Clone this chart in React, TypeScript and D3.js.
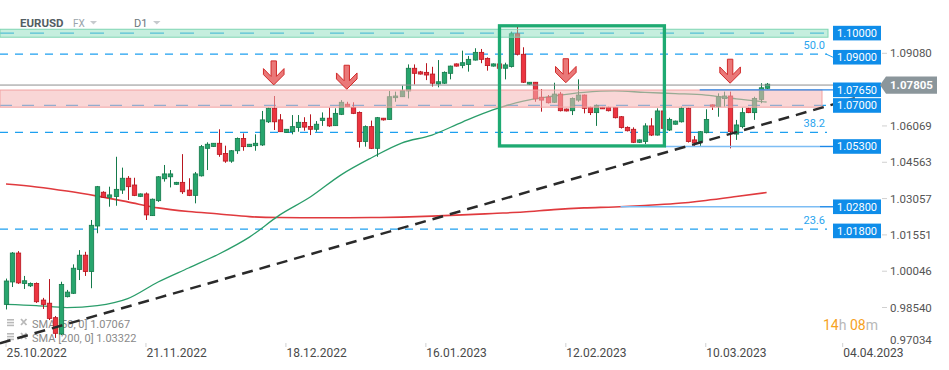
import { useEffect, useRef } from "react";
import * as d3 from "d3";

// daily candles, 25.10.2022 .. 22.03.2023 (Sunday bars included)
const opens = [
  0.9867, 0.9960, 1.0080, 0.9954, 0.9944, 0.9954, 0.9885, 0.9872, 0.9812, 0.9744,
  0.9899, 0.9913, 1.0012, 1.0071, 1.0003, 1.0192, 1.0332, 1.0311, 1.0314, 1.0341,
  1.0390, 1.0362, 1.0315, 1.0325, 1.0235, 1.0297, 1.0388, 1.0396, 1.0365, 1.0373,
  1.0341, 1.0319, 1.0400, 1.0514, 1.0522, 1.0535, 1.0493, 1.0461, 1.0504, 1.0555,
  1.0521, 1.0525, 1.0528, 1.0624, 1.0680, 1.0632, 1.0580, 1.0583, 1.0600, 1.0621,
  1.0605, 1.0593, 1.0629, 1.0639, 1.0608, 1.0655, 1.0697, 1.0683, 1.0663, 1.0542,
  1.0604, 1.0514, 1.0639, 1.0634, 1.0724, 1.0728, 1.0752, 1.0846, 1.0831, 1.0829,
  1.0822, 1.0781, 1.0784, 1.0825, 1.0864, 1.0858, 1.0862, 1.0880, 1.0912, 1.0887,
  1.0855, 1.0864, 1.0846, 1.0853, 1.0989, 1.0904, 1.0780, 1.0788, 1.0726, 1.0726,
  1.0705, 1.0739, 1.0677, 1.0670, 1.0714, 1.0735, 1.0684, 1.0662, 1.0684, 1.0684,
  1.0683, 1.0645, 1.0601, 1.0593, 1.0539, 1.0542, 1.0607, 1.0569, 1.0669, 1.0590,
  1.0614, 1.0624, 1.0680, 1.0549, 1.0542, 1.0579, 1.0694, 1.0687, 1.0720, 1.0731,
  1.0573, 1.0604, 1.0680, 1.0662, 1.0717, 1.0763,
];
const highs = [
  0.9974, 1.0084, 1.0088, 0.9985, 0.9958, 0.9958, 0.9894, 0.9972, 0.9819, 0.9961,
  0.9927, 1.0033, 1.0092, 1.0085, 1.0217, 1.0358, 1.0336, 1.0355, 1.0479, 1.0434,
  1.0399, 1.0392, 1.0327, 1.0331, 1.0306, 1.0399, 1.0445, 1.0424, 1.0375, 1.0490,
  1.0390, 1.0416, 1.0528, 1.0539, 1.0536, 1.0593, 1.0525, 1.0507, 1.0559, 1.0576,
  1.0532, 1.0572, 1.0669, 1.0683, 1.0731, 1.0656, 1.0594, 1.0652, 1.0652, 1.0643,
  1.0655, 1.0627, 1.0663, 1.0683, 1.0680, 1.0714, 1.0707, 1.0705, 1.0667, 1.0609,
  1.0629, 1.0644, 1.0640, 1.0752, 1.0749, 1.0774, 1.0862, 1.0862, 1.0835, 1.0867,
  1.0852, 1.0880, 1.0833, 1.0857, 1.0866, 1.0919, 1.0897, 1.0929, 1.0926, 1.0891,
  1.0866, 1.0866, 1.0869, 1.0998, 1.1021, 1.0933, 1.0789, 1.0789, 1.0760, 1.0735,
  1.0786, 1.0748, 1.0679, 1.0725, 1.0800, 1.0737, 1.0687, 1.0696, 1.0686, 1.0687,
  1.0685, 1.0648, 1.0605, 1.0601, 1.0551, 1.0618, 1.0639, 1.0680, 1.0671, 1.0641,
  1.0629, 1.0687, 1.0683, 1.0565, 1.0586, 1.0676, 1.0696, 1.0742, 1.0749, 1.0749,
  1.0632, 1.0683, 1.0683, 1.0728, 1.0784, 1.0785,
];
const lows = [
  0.9846, 0.9939, 0.9952, 0.9931, 0.9939, 0.9873, 0.9848, 0.9802, 0.9728, 0.9740,
  0.9896, 0.9910, 0.9968, 0.9985, 0.9934, 1.0162, 1.0308, 1.0272, 1.0276, 1.0325,
  1.0300, 1.0316, 1.0312, 1.0217, 1.0234, 1.0292, 1.0376, 1.0352, 1.0362, 1.0325,
  1.0316, 1.0286, 1.0397, 1.0424, 1.0520, 1.0479, 1.0454, 1.0454, 1.0491, 1.0504,
  1.0520, 1.0504, 1.0524, 1.0619, 1.0590, 1.0582, 1.0578, 1.0572, 1.0583, 1.0587,
  1.0569, 1.0583, 1.0607, 1.0603, 1.0607, 1.0652, 1.0685, 1.0656, 1.0517, 1.0521,
  1.0511, 1.0479, 1.0629, 1.0632, 1.0707, 1.0727, 1.0721, 1.0779, 1.0820, 1.0797,
  1.0770, 1.0767, 1.0781, 1.0800, 1.0853, 1.0846, 1.0832, 1.0878, 1.0867, 1.0836,
  1.0853, 1.0843, 1.0800, 1.0849, 1.0899, 1.0785, 1.0777, 1.0707, 1.0666, 1.0700,
  1.0702, 1.0667, 1.0667, 1.0652, 1.0707, 1.0659, 1.0652, 1.0607, 1.0678, 1.0667,
  1.0638, 1.0596, 1.0584, 1.0536, 1.0536, 1.0532, 1.0565, 1.0567, 1.0586, 1.0586,
  1.0612, 1.0621, 1.0538, 1.0524, 1.0524, 1.0576, 1.0673, 1.0645, 1.0687, 1.0514,
  1.0549, 1.0597, 1.0660, 1.0632, 1.0701, 1.0760,
];
const closes = [
  0.9964, 1.0080, 0.9956, 0.9965, 0.9954, 0.9878, 0.9867, 0.9809, 0.9747, 0.9950,
  0.9918, 1.0017, 1.0071, 1.0003, 1.0195, 1.0355, 1.0311, 1.0321, 1.0344, 1.0390,
  1.0355, 1.0319, 1.0325, 1.0238, 1.0303, 1.0396, 1.0408, 1.0408, 1.0373, 1.0334,
  1.0319, 1.0408, 1.0521, 1.0531, 1.0535, 1.0489, 1.0461, 1.0504, 1.0555, 1.0521,
  1.0531, 1.0535, 1.0632, 1.0680, 1.0624, 1.0583, 1.0593, 1.0604, 1.0622, 1.0602,
  1.0593, 1.0614, 1.0639, 1.0607, 1.0659, 1.0705, 1.0687, 1.0659, 1.0542, 1.0604,
  1.0514, 1.0641, 1.0632, 1.0728, 1.0731, 1.0753, 1.0846, 1.0825, 1.0822, 1.0818,
  1.0784, 1.0790, 1.0829, 1.0855, 1.0855, 1.0869, 1.0883, 1.0912, 1.0883, 1.0857,
  1.0864, 1.0846, 1.0860, 1.0989, 1.0904, 1.0788, 1.0788, 1.0719, 1.0714, 1.0703,
  1.0739, 1.0670, 1.0669, 1.0721, 1.0735, 1.0680, 1.0662, 1.0691, 1.0680, 1.0670,
  1.0641, 1.0600, 1.0587, 1.0539, 1.0549, 1.0607, 1.0569, 1.0669, 1.0597, 1.0634,
  1.0627, 1.0680, 1.0542, 1.0537, 1.0583, 1.0634, 1.0687, 1.0728, 1.0731, 1.0583,
  1.0611, 1.0662, 1.0662, 1.0721, 1.0765, 1.0780,
];

// moving averages, read every 5th bar
const smaBars = [0, 5, 10, 15, 20, 25, 30, 35, 40, 45, 50, 55, 60, 65, 70, 75, 80, 85, 90, 95, 100, 105, 110, 115, 120, 125];
const sma50 = [
  0.9867, 0.9862, 0.9854, 0.9862, 0.9891, 0.9960, 1.0018, 1.0076, 1.0146, 1.0238,
  1.0312, 1.0403, 1.0474, 1.0536, 1.0569, 1.0623, 1.0673, 1.0710, 1.0731, 1.0746,
  1.0752, 1.0746, 1.0741, 1.0735, 1.0719, 1.0706,
];
const sma200 = [
  1.0366, 1.0354, 1.0337, 1.0316, 1.0292, 1.0267, 1.0252, 1.0242, 1.0231, 1.0227,
  1.0226, 1.0226, 1.0227, 1.0229, 1.0233, 1.0238, 1.0244, 1.0250, 1.0260, 1.0267,
  1.0271, 1.0277, 1.0285, 1.0298, 1.0314, 1.0331,
];

const dateLabels = ["25.10.2022", "21.11.2022", "18.12.2022", "16.01.2023", "12.02.2023", "10.03.2023", "04.04.2023"];
const dateBars = [0, 23, 46, 69, 92, 115, 137.5];

// the 1.07574 tick sits under the last-price tag, so it is not listed
const priceTicks = [1.0908, 1.06069, 1.04563, 1.03057, 1.01551, 1.00046, 0.9854, 0.97034];
const priceTickLabels = ["1.09080", "1.06069", "1.04563", "1.03057", "1.01551", "1.00046", "0.98540", "0.97034"];

const levelValues = [1.1, 1.09, 1.0765, 1.07, 1.053, 1.028, 1.018];
const levelLabels = ["1.10000", "1.09000", "1.07650", "1.07000", "1.05300", "1.02800", "1.01800"];

const fibLabels = ["50.0", "38.2", "23.6"];
const fibValues = [1.0905, 1.058, 1.0179];

const solidLevels = [1.0765, 1.053, 1.028];
const solidStartBars = [114, 108.3, 101];

const greenZone = [1.1016, 1.0983];
const pinkZone = [1.0764, 1.0693];

const boxBars = [81.1, 108.2];
const boxPrices = [1.1022, 1.0524];

const trendBars = [-1, 139.5];
const trendPrices = [0.9706, 1.0722];

const arrowBars = [44, 56, 92, 119];
const arrowTips = [1.0777, 1.0759, 1.0786, 1.0784];

const lastPrice = 1.07805;
const legendRows = ["SMA [50, 0] 1.07067", "SMA [200, 0] 1.03322"];

export default function App() {
  const ref = useRef<SVGSVGElement | null>(null);

  useEffect(() => {
    const width = 949;
    const height = 370;
    const plotRight = 827;
    const shift = 2; // drawn levels sit a touch under the axis mapping
    const font = "Roboto, 'Open Sans', sans-serif";

    const svg = d3.select(ref.current);
    svg.selectAll("*").remove();
    svg.attr("width", width).attr("height", height).style("font-family", font);

    svg.append("rect").attr("width", width).attr("height", height).attr("fill", "#fff");

    const x = d3.scaleLinear().domain([0, 125]).range([6, 6 + 125 * 6.085]);
    const y = d3.scaleLinear().domain([1.1129, 0.9595]).range([0, height]);

    // header
    svg.append("text").attr("x", 20).attr("y", 27).text("EURUSD")
      .attr("font-size", 11.5).attr("font-weight", 700).attr("fill", "#535d63");
    svg.append("text").attr("x", 73).attr("y", 27).text("FX")
      .attr("font-size", 10).attr("fill", "#9aa4ab");
    svg.append("path").attr("d", "M90,21 L97,21 L93.5,24.5 Z").attr("fill", "#c6cacd");
    svg.append("text").attr("x", 134).attr("y", 27).text("D1")
      .attr("font-size", 11).attr("fill", "#6b757b");
    svg.append("path").attr("d", "M153,21 L160.5,21 L156.8,24.5 Z").attr("fill", "#c6cacd");

    // legend sits under the candles
    const legend = svg.append("g");
    legendRows.forEach((t, i) => {
      const base = 327.5 + i * 14;
      [0, 2.8, 5.6].forEach(dy => {
        legend.append("rect").attr("x", 7).attr("y", base - 8.5 + dy).attr("width", 7).attr("height", 1.6).attr("fill", "#b9b9b9");
      });
      legend.append("path")
        .attr("d", `M21,${base - 8.5} L26.5,${base - 2.5} M26.5,${base - 8.5} L21,${base - 2.5}`)
        .attr("stroke", "#b9b9b9").attr("stroke-width", 1.8);
      legend.append("text").attr("x", 32).attr("y", base).text(t)
        .attr("font-size", 11).attr("fill", "#8a8a8a");
    });

    // dashed horizontal levels
    const dashed = svg.append("g");
    dashed.append("line").attr("x1", 0).attr("x2", plotRight)
      .attr("y1", y(1.1) + shift).attr("y2", y(1.1) + shift)
      .attr("stroke", "#1ea2f0").attr("stroke-width", 1.2).attr("stroke-dasharray", "14,16");
    dashed.append("line").attr("x1", 0).attr("x2", 833)
      .attr("y1", y(1.07) + shift).attr("y2", y(1.07) + shift)
      .attr("stroke", "#1ea2f0").attr("stroke-width", 1.2).attr("stroke-dasharray", "12,10");
    fibValues.forEach((v, i) => {
      dashed.append("line").attr("x1", 0).attr("x2", plotRight)
        .attr("y1", y(v)).attr("y2", y(v))
        .attr("stroke", "#1ea0f0").attr("stroke-width", 1.2).attr("stroke-dasharray", "8,7");
      dashed.append("text").attr("x", 825).attr("y", y(v) - 5).text(fibLabels[i])
        .attr("text-anchor", "end").attr("font-size", 11).attr("fill", "#2aa4ee");
    });
    dashed.append("path")
      .attr("d", `M826,${y(fibValues[0])} L833,${y(1.09) + shift}`)
      .attr("stroke", "#1ea0f0").attr("fill", "none");

    // moving averages
    const smaLine = d3.line<number>()
      .x((d, i) => x(smaBars[i]))
      .y(d => y(d))
      .curve(d3.curveMonotoneX);
    svg.append("path").attr("d", smaLine(sma200)).attr("fill", "none")
      .attr("stroke", "#e03a3e").attr("stroke-width", 1.6);
    svg.append("path").attr("d", smaLine(sma50)).attr("fill", "none")
      .attr("stroke", "#2a9d6a").attr("stroke-width", 1.3);

    // candles
    const candles = svg.append("g");
    opens.forEach((o, i) => {
      const c = closes[i];
      const up = c >= o;
      const line = up ? "#157a4b" : "#b8161f";
      const fill = up ? "#27a56d" : "#ec3440";
      const cx = Math.round(x(i)) + 0.5;
      candles.append("line").attr("x1", cx).attr("x2", cx)
        .attr("y1", y(highs[i])).attr("y2", y(lows[i]))
        .attr("stroke", line).attr("stroke-width", 1);
      const top = y(Math.max(o, c));
      const h = Math.max(1.5, Math.abs(y(o) - y(c)));
      candles.append("rect").attr("x", cx - 2.2).attr("width", 4.4)
        .attr("y", top).attr("height", h)
        .attr("fill", fill).attr("stroke", line).attr("stroke-width", 0.8);
    });

    // zones over the candles
    svg.append("rect").attr("x", 0).attr("width", 822)
      .attr("y", y(pinkZone[0]) + shift).attr("height", y(pinkZone[1]) - y(pinkZone[0]))
      .attr("fill", "rgb(244,180,180)").attr("fill-opacity", 0.55)
      .attr("stroke", "#f2a2a2").attr("stroke-width", 1);
    svg.append("rect").attr("x", 0).attr("width", plotRight + 1)
      .attr("y", y(greenZone[0]) + shift).attr("height", y(greenZone[1]) - y(greenZone[0]))
      .attr("fill", "rgb(140,222,190)").attr("fill-opacity", 0.5)
      .attr("stroke", "#7fd5b3").attr("stroke-width", 1);

    // current price line
    svg.append("line").attr("x1", 0).attr("x2", 880)
      .attr("y1", y(lastPrice) + 1).attr("y2", y(lastPrice) + 1)
      .attr("stroke", "#8e8e8e").attr("stroke-width", 1);

    // solid levels
    solidLevels.forEach((v, i) => {
      const ly = y(v) + shift;
      const first = i === 0;
      svg.append("line").attr("x1", x(solidStartBars[i])).attr("x2", first ? 833 : 820)
        .attr("y1", ly).attr("y2", ly)
        .attr("stroke", first ? "#2b88e8" : "#7dbdf4").attr("stroke-width", first ? 1.2 : 1.6);
      if (!first) {
        svg.append("line").attr("x1", 820).attr("x2", 833).attr("y1", ly).attr("y2", ly)
          .attr("stroke", "#1b87e8").attr("stroke-width", 1.4);
      }
    });

    // trend line
    svg.append("line")
      .attr("x1", x(trendBars[0])).attr("y1", y(trendPrices[0]))
      .attr("x2", x(trendBars[1])).attr("y2", y(trendPrices[1]))
      .attr("stroke", "#2a2a2a").attr("stroke-width", 2.5).attr("stroke-dasharray", "11,7");

    // consolidation box
    svg.append("rect")
      .attr("x", x(boxBars[0])).attr("width", x(boxBars[1]) - x(boxBars[0]))
      .attr("y", y(boxPrices[0])).attr("height", y(boxPrices[1]) - y(boxPrices[0]))
      .attr("fill", "none").attr("stroke", "#1eaa72").attr("stroke-width", 3.3);

    // arrows
    arrowBars.forEach((b, i) => {
      svg.append("path")
        .attr("transform", `translate(${x(b)},${y(arrowTips[i])})`)
        .attr("d", "M-2.7,-24 L2.7,-24 L2.7,-8.5 L10.3,-16.3 L10.3,-10.3 L0,0 L-10.3,-10.3 L-10.3,-16.3 L-2.7,-8.5 Z")
        .attr("fill", "#ea7878").attr("stroke", "#d12a2a").attr("stroke-width", 1);
    });

    // right price axis
    const axis = svg.append("g").attr("font-size", 11.5);
    priceTicks.forEach((v, i) => {
      const ty = Math.min(y(v), 340);
      if (y(v) < 340) {
        axis.append("line").attr("x1", 882).attr("x2", 887).attr("y1", ty).attr("y2", ty)
          .attr("stroke", "#d0d0d0");
      }
      axis.append("text").attr("x", 890).attr("y", ty + 4).text(priceTickLabels[i]).attr("fill", "#555");
    });

    // level boxes
    levelValues.forEach((v, i) => {
      const cy = y(v) + shift;
      svg.append("rect").attr("x", 833).attr("y", cy - 7.3).attr("width", 48).attr("height", 14.6)
        .attr("fill", "#0f8de9");
      svg.append("text").attr("x", 857).attr("y", cy + 3.9).text(levelLabels[i])
        .attr("text-anchor", "middle").attr("font-size", 11).attr("fill", "#fff");
    });

    // last price tag
    const tagY = y(lastPrice) + 1;
    svg.append("path")
      .attr("d", `M880,${tagY} L886,${tagY - 8.6} L937,${tagY - 8.6} L937,${tagY + 8.6} L886,${tagY + 8.6} Z`)
      .attr("fill", "#8b969b");
    svg.append("text").attr("x", 890).attr("y", tagY + 4.2).text(lastPrice.toFixed(5))
      .attr("font-size", 11.5).attr("font-weight", 700).attr("fill", "#fff");

    // countdown
    const cd = svg.append("text").attr("x", 823).attr("y", 330).attr("font-size", 14);
    cd.append("tspan").text("14").attr("fill", "#f6a21e");
    cd.append("tspan").text("h").attr("fill", "#b8b8b8");
    cd.append("tspan").text(" 08").attr("fill", "#f6a21e");
    cd.append("tspan").text("m").attr("fill", "#b8b8b8");

    // date axis
    dateBars.forEach((b, i) => {
      const dx = x(b);
      svg.append("line").attr("x1", dx).attr("x2", dx).attr("y1", 343).attr("y2", 347)
        .attr("stroke", "#d0d0d0");
      svg.append("text").attr("x", dx + 0.5).attr("y", 357).text(dateLabels[i])
        .attr("font-size", 12).attr("fill", "#4a4a4a");
    });
  }, []);

  return (
    <div style={{ position: "absolute", left: 0, top: 0, width: 949, height: 370 }}>
      <svg ref={ref} width={949} height={370} style={{ display: "block" }} />
    </div>
  );
}
